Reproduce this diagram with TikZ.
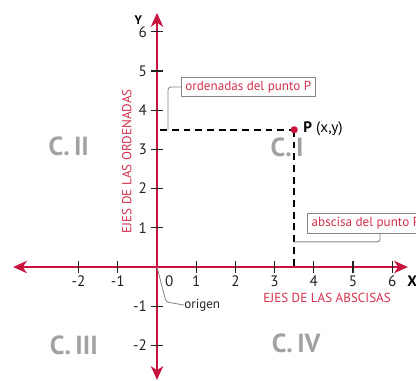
\documentclass[tikz,border=0pt]{standalone}
\usepackage{fontspec}
\setmainfont{PT Sans}
\usepackage{tikz}
\usetikzlibrary{arrows.meta, positioning, calc}
\definecolor{axisred}{HTML}{C8143C}
\definecolor{labelred}{HTML}{D4304E}
\definecolor{quadgray}{HTML}{A2A2A2}
\definecolor{callgray}{HTML}{858585}
\definecolor{darkgray}{HTML}{222222}
\tikzset{
  axis/.style={line width=1.4pt, color=axisred, {Stealth[length=10pt, width=9pt, inset=3pt]}-{Stealth[length=10pt, width=9pt, inset=3pt]}},
  tickmark/.style={line width=0.8pt, color=darkgray},
  numlabel/.style={font=\fontsize{11}{12}\selectfont, text=darkgray, inner sep=0pt},
  guide/.style={line width=1.4pt, dash pattern=on 5pt off 3.5pt, color=black},
  quadrant/.style={font=\fontsize{19}{20}\selectfont\bfseries, text=quadgray},
  axistitle/.style={font=\fontsize{9.5}{10}\selectfont, text=labelred, inner sep=0pt},
  callout/.style={
    rectangle, draw=callgray, line width=0.6pt,
    minimum height=0.5cm, inner xsep=3pt, inner ysep=0pt,
    font=\fontsize{9.5}{10}\selectfont, text=labelred,
  },
  callline/.style={line width=0.6pt, color=callgray, rounded corners=2pt},
}

\begin{document}
\begin{tikzpicture}
  \useasboundingbox (-4.005,-2.908) rectangle (6.607,6.811);

  \coordinate (O) at (0,0);
  \coordinate (xleft) at (-3.67,0);
  \coordinate (xright) at (6.40,0);
  \coordinate (ybottom) at (0,-2.88);
  \coordinate (ytop) at (0,6.48);
  \coordinate (P) at (3.5,3.5);
  \coordinate (Pfoot) at (3.5,0);
  \coordinate (Pside) at (0.08,3.5);

  % quadrants
  \node[quadrant] (q2) at (-2.25,3.09) {C.\,II};
  \node[quadrant] (q1) at (3.32,3.06) {C.\,I};
  \node[quadrant] (q3) at (-2.12,-1.99) {C.\,III};
  \node[quadrant] (q4) at (3.55,-1.94) {C.\,IV};

  % axes
  \draw[axis] (xleft) -- (xright);
  \draw[axis] (ybottom) -- (ytop);

  \foreach \k in {-2,-1,1,2,3,4,5,6} {
    \draw[tickmark] (\k,-0.15) -- (\k,0.15);
    \node[numlabel, anchor=north] (xl\k) at (\k,-0.21) {\k};
  }
  \foreach \k in {-2,-1,1,2,3,4,5,6} {
    \draw[tickmark] (-0.15,\k) -- (0.15,\k);
    \node[numlabel, anchor=east] (yl\k) at (-0.25,\k) {\k};
  }
  \node[numlabel, anchor=north] (zero) at (0.31,-0.21) {0};
  \node[font=\fontsize{9}{10}\selectfont\bfseries, inner sep=0pt] (ylab) at (-0.48,6.30) {Y};
  \node[font=\fontsize{11}{12}\selectfont\bfseries, inner sep=0pt, anchor=west] (xlab) at (6.38,-0.36) {X};

  \node[axistitle] (abscisas) at (4.34,-0.79) {EJES DE LAS ABSCISAS};
  \node[axistitle, rotate=90] (ordenadas) at (-0.77,2.70) {EJES DE LAS ORDENADAS};

  % point P
  \draw[guide] (Pside) -- (P);
  \draw[guide] (P) -- (Pfoot);
  \fill[axisred] (P) circle (2.6pt);
  \node[anchor=west, font=\fontsize{11}{12}\selectfont, inner sep=0pt] (plab) at (3.73,3.52) {\textbf{P} (x,y)};

  % callouts
  \node[callout] (ordbox) at (2.33,4.59) {ordenadas del punto P};
  \node[callout, anchor=west] (absbox) at (3.83,1.11) {abscisa del punto P};
  \node[anchor=west, font=\fontsize{9.5}{10}\selectfont, text=darkgray, inner sep=0pt] (origen) at (0.69,-0.97) {origen};

  \coordinate (ordfoot) at (0.28,3.5);
  \coordinate (absfoot) at (3.5,0.64);
  \coordinate (absknee) at (5.69,0.64);
  \draw[callline] (ordbox.west) -| (ordfoot);
  \draw[callline] (absknee |- absbox.south) |- (absfoot);
  \draw[callline] (O) -- (0.23,-0.89) -- (origen.west);

\end{tikzpicture}
\end{document}
